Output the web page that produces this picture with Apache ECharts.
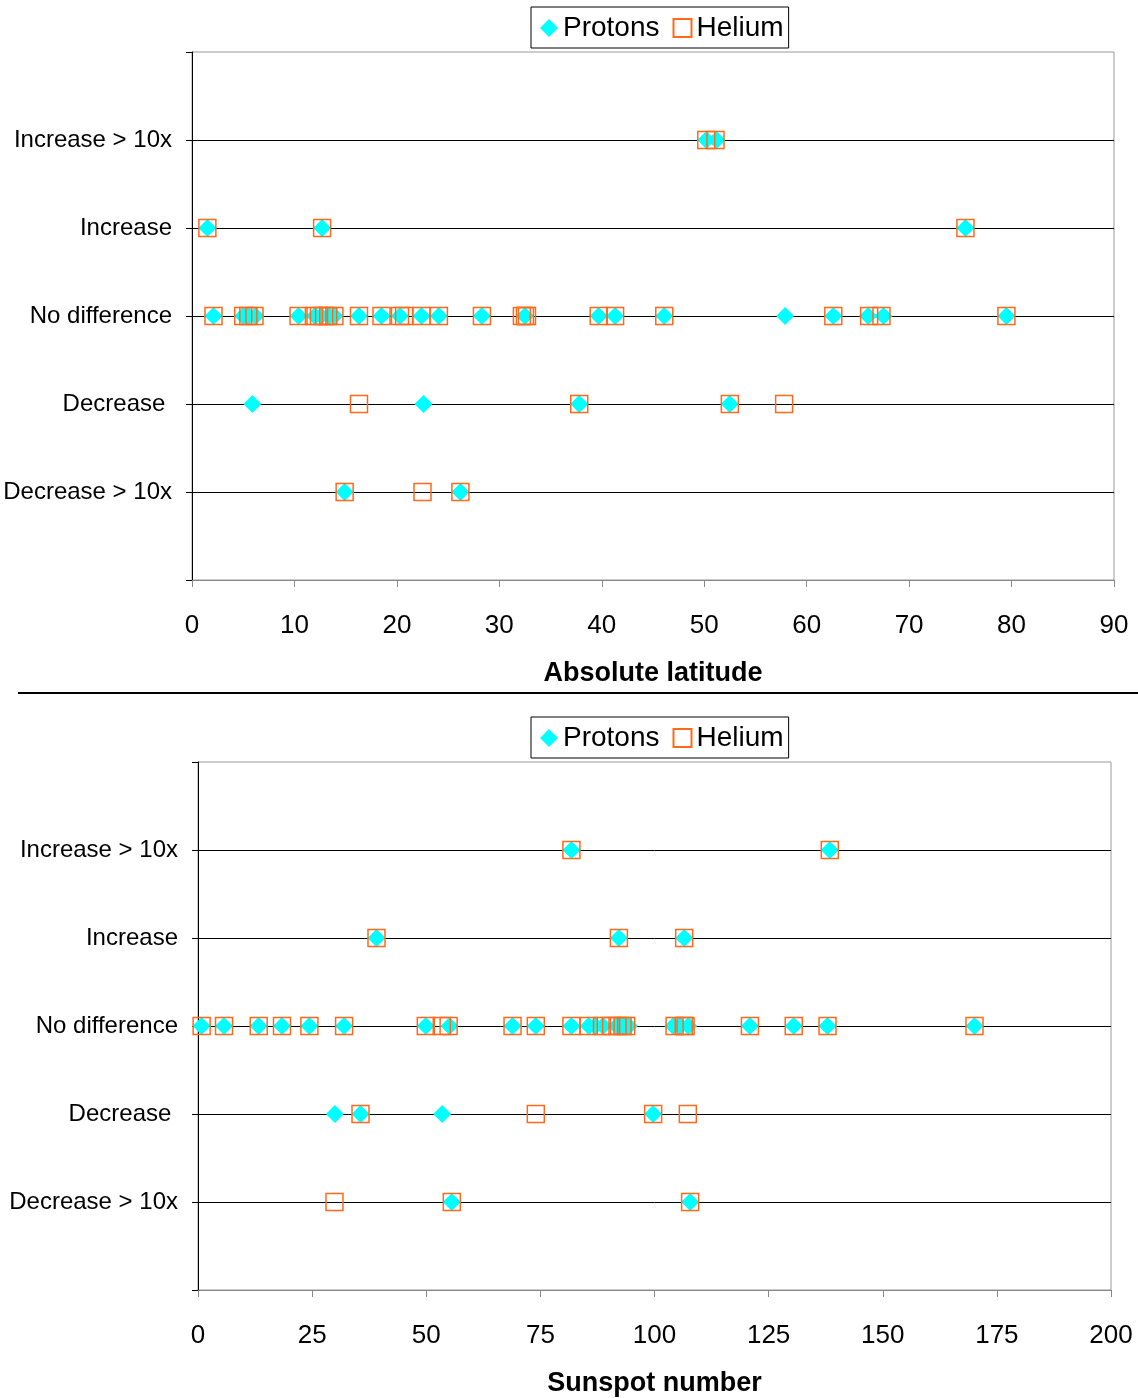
<!DOCTYPE html>
<html>
<head>
<meta charset="utf-8">
<script src="https://cdn.jsdelivr.net/npm/echarts@6/dist/echarts.min.js"></script>
<style>html,body{margin:0;padding:0;background:#fff;}#c{width:1138px;height:1398px;}</style>
</head>
<body>
<div id="c"></div>
<script>
// Row categories (y value 1..5, bottom to top)
const rowLabels = ['Decrease > 10x', 'Decrease ', 'No difference', 'Increase', 'Increase > 10x'];
const seriesNames = ['Protons', 'Helium'];

// Absolute latitude chart: one list per row, bottom row first
const latProtons = [
  [14.9, 26.2],
  [5.9, 22.6, 37.8, 52.5],
  [2.1, 5.0, 5.5, 6.2, 10.4, 12.0, 12.6, 13.4, 13.9, 16.3, 18.5, 20.3, 22.4, 24.1, 28.3, 32.5, 39.7, 41.3, 46.1, 57.9, 62.6, 66.0, 67.5, 79.5],
  [1.5, 12.7, 75.5],
  [50.2, 51.2]
];
const latHelium = [
  [14.9, 22.5, 26.2],
  [16.3, 37.8, 52.5, 57.8],
  [2.1, 5.0, 5.5, 6.1, 10.4, 11.9, 12.4, 12.9, 13.3, 13.9, 16.3, 18.5, 20.3, 20.7, 22.4, 24.1, 28.3, 32.2, 32.5, 32.7, 39.7, 41.3, 46.1, 62.6, 66.1, 67.3, 79.5],
  [1.5, 12.7, 75.5],
  [50.2, 51.1]
];
const latTicks = { min: 0, max: 90, interval: 10 };

// Sunspot number chart
const sunProtons = [
  [55.6, 107.8],
  [30.0, 35.6, 53.5, 99.7],
  [0.8, 5.7, 13.3, 18.4, 24.4, 32.0, 49.9, 55.1, 68.9, 74.0, 81.8, 85.6, 87.0, 88.7, 91.7, 92.3, 93.0, 93.7, 94.4, 104.1, 105.6, 107.4, 120.9, 130.5, 137.9, 170.1],
  [39.1, 92.2, 106.5],
  [81.8, 138.4]
];
const sunHelium = [
  [29.9, 55.6, 107.8],
  [35.6, 74.0, 99.7, 107.3],
  [0.8, 5.7, 13.3, 18.4, 24.4, 32.0, 49.9, 53.4, 54.9, 68.9, 74.0, 81.8, 85.6, 88.5, 90.5, 91.9, 93.0, 93.8, 104.4, 106.4, 106.8, 120.9, 130.5, 137.9, 170.1],
  [39.1, 92.2, 106.5],
  [81.8, 138.4]
];
const sunTicks = { min: 0, max: 200, interval: 25 };

const FONT = '"Liberation Sans", Arial, sans-serif';
const toPoints = rows => rows.flatMap((vals, i) => vals.map(v => [v, i + 1]));

function xAxisDef(gridIndex, ticks, name) {
  return {
    type: 'value', gridIndex, min: ticks.min, max: ticks.max, interval: ticks.interval,
    name, nameLocation: 'middle', nameGap: 80,
    nameTextStyle: { fontFamily: FONT, fontSize: 27, fontWeight: 'bold', color: '#000' },
    axisLine: { show: true, onZero: false, lineStyle: { color: '#888', width: 1 } },
    axisTick: { show: true, length: 7, lineStyle: { color: '#888' } },
    axisLabel: { fontFamily: FONT, fontSize: 26, color: '#000', margin: 33 },
    splitLine: { show: false }
  };
}
function yAxisDef(gridIndex) {
  return {
    type: 'value', gridIndex, min: 0, max: 6, interval: 1,
    axisLine: { show: true, onZero: false, lineStyle: { color: '#000', width: 1 } },
    axisTick: { show: true, length: 6, lineStyle: { color: '#000' } },
    axisLabel: {
      fontFamily: FONT, fontSize: 24, color: '#000', margin: 20,
      formatter: v => (v >= 1 && v <= 5 ? rowLabels[v - 1] : '')
    },
    splitLine: { show: true, lineStyle: { color: ['rgba(0,0,0,0)', '#000', '#000', '#000', '#000', '#000', 'rgba(0,0,0,0)'], width: 1 } }
  };
}
function legendDef(top) {
  return {
    data: seriesNames, left: 531, top, orient: 'horizontal',
    selectedMode: false, itemWidth: 18, itemHeight: 18, itemGap: 13,
    textStyle: { fontFamily: FONT, fontSize: 28, color: '#000' },
    borderColor: '#000', borderWidth: 1, padding: [7, 5, 6, 9], backgroundColor: '#fff'
  };
}
function protonSeries(idx, rows) {
  return {
    name: 'Protons', type: 'scatter', xAxisIndex: idx, yAxisIndex: idx,
    symbol: 'diamond', symbolSize: 18,
    itemStyle: { color: '#00FFFF', opacity: 1 },
    data: toPoints(rows), animation: false
  };
}
function heliumSeries(idx, rows) {
  return {
    name: 'Helium', type: 'scatter', xAxisIndex: idx, yAxisIndex: idx,
    symbol: 'rect', symbolSize: 17,
    itemStyle: { color: 'rgba(255,255,255,0)', borderColor: '#FF6A1A', borderWidth: 1.5, opacity: 1 },
    data: toPoints(rows), animation: false
  };
}

const chart = echarts.init(document.getElementById('c'), null, { renderer: 'canvas' });
chart.setOption({
  backgroundColor: '#fff',
  animation: false,
  legend: [legendDef(7), legendDef(717)],
  grid: [
    { left: 192, top: 52, width: 922, height: 528, show: true, borderColor: '#999', borderWidth: 1, backgroundColor: 'rgba(0,0,0,0)' },
    { left: 198, top: 762, width: 913, height: 528, show: true, borderColor: '#999', borderWidth: 1, backgroundColor: 'rgba(0,0,0,0)' }
  ],
  xAxis: [xAxisDef(0, latTicks, 'Absolute latitude'), xAxisDef(1, sunTicks, 'Sunspot number')],
  yAxis: [yAxisDef(0), yAxisDef(1)],
  graphic: [{
    type: 'line', shape: { x1: 18, y1: 693, x2: 1138, y2: 693 },
    style: { stroke: '#000', lineWidth: 2 }
  }],
  series: [
    protonSeries(0, latProtons), heliumSeries(0, latHelium),
    protonSeries(1, sunProtons), heliumSeries(1, sunHelium)
  ]
});
</script>
</body>
</html>
